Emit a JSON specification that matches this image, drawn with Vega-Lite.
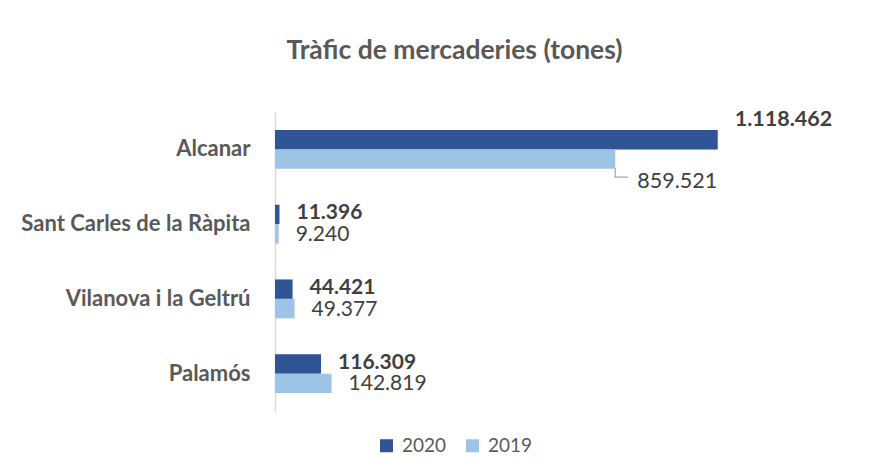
{
  "$schema": "https://vega.github.io/schema/vega-lite/v6.json",
  "width": 475,
  "height": 299,
  "autosize": {"type": "none"},
  "padding": {"left": 275, "top": 112, "right": 136, "bottom": 63},
  "background": "white",
  "title": {
    "text": "Tràfic de mercaderies (tones)",
    "font": "Lato",
    "fontSize": 26.5,
    "fontWeight": "bold",
    "color": "#595959",
    "anchor": "middle",
    "dx": -58,
    "offset": 44
  },
  "config": {
    "view": {"stroke": null},
    "locale": {"number": {"decimal": ",", "thousands": ".", "grouping": [3], "currency": ["", " €"]}}
  },
  "data": {
    "values": [
      {"port": "Alcanar", "year": "2020", "tones": 1118462},
      {"port": "Alcanar", "year": "2019", "tones": 859521},
      {"port": "Sant Carles de la Ràpita", "year": "2020", "tones": 11396},
      {"port": "Sant Carles de la Ràpita", "year": "2019", "tones": 9240},
      {"port": "Vilanova i la Geltrú", "year": "2020", "tones": 44421},
      {"port": "Vilanova i la Geltrú", "year": "2019", "tones": 49377},
      {"port": "Palamós", "year": "2020", "tones": 116309},
      {"port": "Palamós", "year": "2019", "tones": 142819}
    ]
  },
  "encoding": {
    "y": {
      "field": "port",
      "type": "nominal",
      "sort": ["Alcanar", "Sant Carles de la Ràpita", "Vilanova i la Geltrú", "Palamós"],
      "scale": {"paddingInner": 0.48, "paddingOuter": 0.24},
      "axis": {
        "title": null,
        "ticks": false,
        "domainColor": "#d9d9d9",
        "domainWidth": 1.5,
        "labelPadding": 25,
        "labelFont": "Lato",
        "labelFontSize": 22,
        "labelFontWeight": "bold",
        "labelColor": "#595959",
        "labelLimit": 300
      }
    },
    "yOffset": {
      "field": "year",
      "type": "nominal",
      "sort": ["2020", "2019"],
      "scale": {"paddingInner": 0, "paddingOuter": 0}
    },
    "x": {
      "field": "tones",
      "type": "quantitative",
      "scale": {"domain": [0, 1200000], "nice": false},
      "axis": null
    }
  },
  "layer": [
    {
      "mark": {"type": "bar"},
      "encoding": {
        "color": {
          "field": "year",
          "type": "nominal",
          "scale": {"domain": ["2020", "2019"], "range": ["#2F5597", "#9DC3E6"]},
          "legend": {
            "title": null,
            "orient": "none",
            "direction": "horizontal",
            "legendX": 102,
            "legendY": 324,
            "symbolType": "square",
            "symbolSize": 169,
            "symbolStrokeWidth": 0,
            "symbolOpacity": 1,
            "labelFont": "Lato",
            "labelFontSize": 19,
            "labelColor": "#595959",
            "labelOffset": 6,
            "columnPadding": 16,
            "padding": 0
          }
        }
      }
    },
    {
      "transform": [{"filter": "datum.year == '2020' && datum.port != 'Alcanar'"}],
      "mark": {"type": "text", "align": "left", "baseline": "middle", "dx": 17, "dy": -1, "font": "Lato", "fontSize": 21, "fontWeight": "bold", "color": "#404040"},
      "encoding": {"text": {"field": "tones", "type": "quantitative", "format": ",d"}}
    },
    {
      "transform": [{"filter": "datum.year == '2019' && datum.port != 'Alcanar'"}],
      "mark": {"type": "text", "align": "left", "baseline": "middle", "dx": 17, "dy": 1, "font": "Lato", "fontSize": 21, "color": "#404040"},
      "encoding": {"text": {"field": "tones", "type": "quantitative", "format": ",d"}}
    },
    {
      "transform": [{"filter": "datum.year == '2020' && datum.port == 'Alcanar'"}],
      "mark": {"type": "text", "align": "left", "baseline": "middle", "dx": 17, "dy": -20, "font": "Lato", "fontSize": 21.5, "fontWeight": "bold", "color": "#404040"},
      "encoding": {"text": {"field": "tones", "type": "quantitative", "format": ",d"}}
    },
    {
      "transform": [{"filter": "datum.year == '2019' && datum.port == 'Alcanar'"}],
      "mark": {"type": "text", "align": "left", "baseline": "middle", "dx": 22, "dy": 23, "font": "Lato", "fontSize": 21.5, "color": "#404040"},
      "encoding": {"text": {"field": "tones", "type": "quantitative", "format": ",d"}}
    },
    {
      "transform": [{"filter": "datum.year == '2019' && datum.port == 'Alcanar'"}],
      "mark": {"type": "point", "shape": "M0,0.5 L0,1 L0.72,1", "size": 1296, "filled": false, "stroke": "#a6a6a6", "strokeWidth": 1.2, "opacity": 1}
    }
  ]
}
